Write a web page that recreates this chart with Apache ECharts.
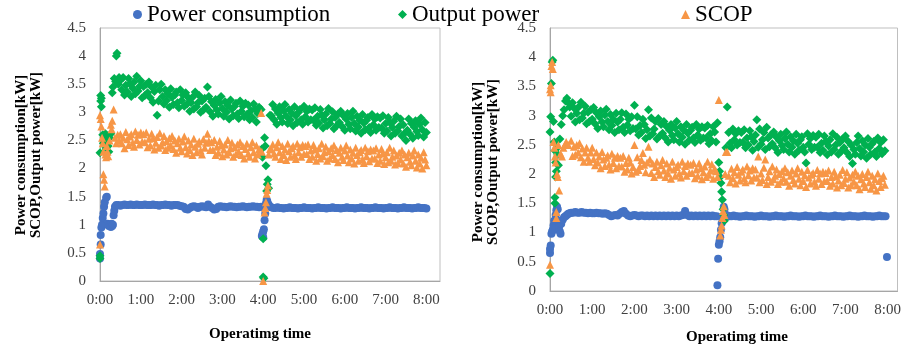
<!DOCTYPE html>
<html><head><meta charset="utf-8">
<script src="https://cdn.jsdelivr.net/npm/echarts/dist/echarts.min.js"></script>
<style>html,body{margin:0;padding:0;background:#fff}#c{width:904px;height:347px}</style>
</head><body><div id="c"></div>
<script>
// ---- Series names, tick labels, titles ----
const seriesNames = ['Power consumption', 'Output power', 'SCOP'];
const timeLabels = ['0:00','1:00','2:00','3:00','4:00','5:00','6:00','7:00','8:00'];
const yTitle = 'Power consumption[kW]\nSCOP,Output power[kW]';
const xTitle = 'Operatimg time';

// ---- Left panel (A): [minutes, value] ----
const powerA = [
[0,0.40],[0,0.48],[1,0.65],[1,0.82],[2,0.95],[3,1.00],[4,1.12],[5,1.20],[6,1.32],[7,1.40],[9,1.48],[10,1.50],[11,1.02],[12,1.00],[13,0.98],[15,1.00],[16,0.96],[17,1.02],[18,0.98],[19,1.00],[20,1.17],[21,1.25],[22,1.32],[24,1.35],[27,1.35],
[30,1.34],[33,1.35],[36,1.36],[39,1.35],[42,1.35],[45,1.36],[48,1.35],[51,1.35],[54,1.36],[57,1.35],[60,1.35],[63,1.35],[66,1.36],[69,1.35],[72,1.35],[75,1.35],[78,1.36],[81,1.35],[84,1.35],[87,1.34],[90,1.35],[93,1.35],[96,1.36],[99,1.35],[102,1.35],[105,1.34],[108,1.35],[111,1.35],[114,1.35],[117,1.34],
[120,1.33],[123,1.32],[126,1.28],[129,1.27],[132,1.30],[135,1.32],[138,1.33],[141,1.32],[144,1.30],[147,1.32],[150,1.33],[153,1.32],[156,1.31],[159,1.36],[162,1.32],[165,1.30],[168,1.27],[171,1.28],[174,1.32],[177,1.33],[180,1.32],[183,1.32],[186,1.31],[189,1.32],[192,1.33],[195,1.32],[198,1.32],[201,1.31],[204,1.32],[207,1.32],[210,1.33],[213,1.32],[216,1.31],[219,1.32],[222,1.32],[225,1.33],[228,1.32],[231,1.32],[234,1.31],
[237,1.32],[238,0.80],[239,0.84],[240,0.88],[240,0.78],[241,0.92],[242,1.08],[243,1.20],[244,1.38],[245,1.44],[246,1.42],[248,1.36],[250,1.32],
[252,1.31],[255,1.30],[258,1.30],[261,1.31],[264,1.30],[267,1.30],[270,1.29],[273,1.30],[276,1.30],[279,1.31],[282,1.30],[285,1.30],[288,1.30],[291,1.29],[294,1.30],[297,1.30],[300,1.31],[303,1.30],[306,1.30],[309,1.30],[312,1.29],[315,1.30],[318,1.30],[321,1.31],[324,1.30],[327,1.30],[330,1.30],[333,1.29],[336,1.30],[339,1.30],[342,1.31],[345,1.30],[348,1.30],[351,1.30],[354,1.29],[357,1.30],[360,1.30],[363,1.31],[366,1.30],[369,1.30],[372,1.30],[375,1.29],[378,1.30],[381,1.30],[384,1.31],[387,1.30],[390,1.30],[393,1.30],[396,1.29],[399,1.30],[402,1.30],[405,1.31],[408,1.30],[411,1.30],[414,1.30],[417,1.29],[420,1.30],[423,1.30],[426,1.31],[429,1.30],[432,1.30],[435,1.30],[438,1.29],[441,1.30],[444,1.30],[447,1.31],[450,1.30],[453,1.30],[456,1.30],[459,1.29],[462,1.30],[465,1.30],[468,1.31],[471,1.30],[474,1.30],[477,1.30],[480,1.29]
];
const outputA = [
[0,0.45],[0,0.40],[0,2.28],[1,3.30],[1,3.20],[2,3.10],[2,3.25],[4,2.60],[5,2.45],[6,2.55],[7,2.40],[8,2.62],[9,2.35],[10,2.50],[11,2.58],[12,2.40],[13,2.30],[14,2.55],[16,2.62],[18,3.35],[19,3.45],[21,3.60],[23,3.55],[24,4.00],[25,4.05],[27,3.50],[28,3.62],
[30,3.57],[32,3.40],[34,3.62],[36,3.31],[38,3.48],[40,3.36],[42,3.60],[44,3.51],[46,3.28],[48,3.43],[50,3.54],[52,3.33],[54,3.64],[56,3.38],[58,3.46],[60,3.56],[62,3.26],[64,3.46],[66,3.30],[68,3.50],[70,3.35],[72,3.54],[74,3.26],[76,3.45],[78,3.18],[80,3.37],[82,3.48],[84,2.95],[86,3.20],[88,3.40],[90,3.50],[92,3.28],[94,3.15],[96,3.40],[98,3.21],[100,3.33],[102,3.09],[104,3.42],[106,3.27],[108,3.14],[110,3.31],[112,3.36],[114,3.17],[116,3.08],[118,3.40],[120,3.21],[122,3.31],[124,3.11],[126,3.35],[128,3.15],
[130,3.26],[132,3.02],[134,3.17],[136,3.27],[138,3.06],[140,3.36],[142,3.10],[144,3.17],[146,3.30],[148,3.00],[150,3.20],[152,3.04],[154,3.25],[156,3.09],[158,3.45],[160,3.28],[162,3.01],[164,3.19],[166,2.93],[168,3.12],[170,3.23],[172,3.04],[174,2.97],[176,3.17],[178,3.28],[180,3.07],[182,2.93],[184,3.19],[186,3.00],[188,3.12],[190,2.88],[192,3.22],[194,3.06],[196,2.94],[198,3.11],[200,3.16],[202,2.97],[204,2.89],[206,3.20],[208,3.02],[210,3.11],[212,2.92],[214,3.16],[216,2.96],[218,3.13],[220,2.87],[222,3.03],[224,2.91],[226,3.15],[228,3.06],[230,2.83],[232,2.98],[234,3.09],
[237,3.05],[238,2.35],[239,2.20],[240,0.75],[240,0.07],[241,0.05],[242,2.55],[243,2.40],[244,2.05],[245,1.60],[246,1.72],[247,1.80],[248,1.65],[250,2.95],
[252,2.94],[254,3.14],[256,2.87],[258,3.06],[260,2.79],[262,2.99],[264,3.10],[266,2.91],[268,2.83],[270,3.03],[272,3.14],[274,2.93],[276,2.80],[278,3.05],[280,2.87],[282,2.99],[284,2.76],[286,3.10],[288,2.94],[290,2.82],[292,3.00],[294,3.05],[296,2.87],[298,2.79],[300,3.11],[302,2.92],[304,3.02],[306,2.83],[308,3.06],[310,2.87],[312,3.04],[314,2.86],[316,3.08],[318,2.77],[320,2.93],[322,2.81],[324,3.05],[326,2.95],[328,2.72],[330,2.87],[332,2.97],[334,2.76],[336,3.07],[338,2.80],[340,2.88],[342,3.01],[344,2.71],[346,2.91],[348,2.76],[350,2.97],[352,2.82],[354,3.02],[356,2.75],[358,2.94],[360,2.68],[362,2.88],[364,2.98],[366,2.79],[368,2.71],[370,2.91],[372,3.02],[374,2.80],[376,2.67],[378,2.93],[380,2.74],[382,2.86],[384,2.63],[386,2.96],[388,2.81],[390,2.69],[392,2.86],[394,2.91],[396,2.73],[398,2.64],[400,2.96],[402,2.78],[404,2.88],[406,2.68],[408,2.92],[410,2.73],[412,2.90],[414,2.72],[416,2.94],[418,2.63],[420,2.80],[422,2.67],[424,2.91],[426,2.82],[428,2.58],[430,2.73],[432,2.84],[434,2.63],[436,2.93],[438,2.67],[440,2.75],[442,2.88],[444,2.58],[446,2.78],[448,2.63],[450,2.50],[452,2.68],[454,2.88],[456,2.61],[458,2.80],[460,2.54],[462,2.74],[464,2.85],[466,2.66],[468,2.59],[470,2.79],[472,2.90],[474,2.69],[476,2.56],[478,2.82],[480,2.64]
];
const scopA = [
[0,0.65],[0,2.95],[1,2.88],[2,2.75],[3,2.55],[4,2.45],[5,2.30],[5,1.90],[6,1.80],[7,1.68],[8,2.25],[9,2.20],[10,2.40],[11,2.30],[12,2.22],[14,2.50],[16,2.78],[17,2.70],[18,2.85],[20,3.05],[22,2.55],[24,2.45],[26,2.60],[28,2.50],
[30,2.61],[32,2.45],[34,2.55],[36,2.36],[38,2.65],[40,2.52],[42,2.42],[44,2.57],[46,2.61],[48,2.46],[50,2.39],[52,2.66],[54,2.51],[56,2.60],[58,2.43],[60,2.64],[62,2.48],[64,2.61],[66,2.47],[68,2.64],[70,2.38],[72,2.53],[74,2.41],[76,2.62],[78,2.54],[80,2.34],[82,2.46],[84,2.56],[86,2.37],[88,2.63],[90,2.41],[92,2.47],[94,2.58],[96,2.33],[98,2.49],[100,2.37],[102,2.54],[104,2.41],[106,2.58],[108,2.35],[110,2.50],[112,2.28],[114,2.45],[116,2.53],[118,2.37],[120,2.31],[122,2.48],[124,2.57],[126,2.38],[128,2.27],
[130,2.50],[132,2.33],[134,2.43],[136,2.24],[138,2.53],[140,2.39],[142,2.29],[144,2.44],[146,2.48],[148,2.32],[150,2.25],[152,2.52],[154,2.37],[156,2.46],[158,2.62],[160,2.49],[162,2.33],[164,2.47],[166,2.33],[168,2.51],[170,2.24],[172,2.39],[174,2.28],[176,2.49],[178,2.41],[180,2.22],[182,2.34],[184,2.43],[186,2.25],[188,2.51],[190,2.29],[192,2.36],[194,2.46],[196,2.21],[198,2.38],[200,2.26],[202,2.43],[204,2.30],[206,2.47],[208,2.24],[210,2.40],[212,2.18],[214,2.35],[216,2.44],[218,2.27],[220,2.21],[222,2.38],[224,2.47],[226,2.29],[228,2.18],[230,2.41],[232,2.25],[234,2.35],
[237,2.99],[238,2.30],[240,0.00],[242,1.22],[243,1.30],[244,1.40],[245,1.55],[246,1.62],[247,1.70],[248,2.25],[250,2.35],
[252,2.34],[254,2.43],[256,2.27],[258,2.21],[260,2.38],[262,2.47],[264,2.29],[266,2.17],[268,2.40],[270,2.24],[272,2.34],[274,2.15],[276,2.44],[278,2.31],[280,2.21],[282,2.36],[284,2.40],[286,2.24],[288,2.17],[290,2.44],[292,2.29],[294,2.38],[296,2.21],[298,2.42],[300,2.26],[302,2.40],[304,2.26],[306,2.43],[308,2.17],[310,2.32],[312,2.21],[314,2.42],[316,2.34],[318,2.14],[320,2.26],[322,2.36],[324,2.18],[326,2.44],[328,2.22],[330,2.29],[332,2.39],[334,2.14],[336,2.31],[338,2.18],[340,2.36],[342,2.24],[344,2.41],[346,2.17],[348,2.33],[350,2.11],[352,2.28],[354,2.37],[356,2.21],[358,2.15],[360,2.32],[362,2.41],[364,2.23],[366,2.11],[368,2.34],[370,2.18],[372,2.28],[374,2.09],[376,2.37],[378,2.24],[380,2.14],[382,2.29],[384,2.33],[386,2.17],[388,2.10],[390,2.37],[392,2.22],[394,2.31],[396,2.13],[398,2.34],[400,2.18],[402,2.32],[404,2.18],[406,2.36],[408,2.10],[410,2.25],[412,2.14],[414,2.35],[416,2.27],[418,2.08],[420,2.20],[422,2.29],[424,2.11],[426,2.37],[428,2.14],[430,2.21],[432,2.32],[434,2.07],[436,2.23],[438,2.10],[440,2.28],[442,2.16],[444,2.32],[446,2.09],[448,2.25],[450,2.03],[452,2.20],[454,2.28],[456,2.12],[458,2.06],[460,2.23],[462,2.32],[464,2.14],[466,2.02],[468,2.25],[470,2.09],[472,2.19],[474,2.00],[476,2.29],[478,2.16],[480,2.06]
];

// ---- Right panel (B): [minutes, value] ----
const powerB = [
[0,0.65],[0,0.72],[1,0.78],[2,0.98],[3,1.02],[4,1.05],[5,1.12],[6,1.20],[8,1.30],[9,1.38],[10,1.44],[11,1.40],[12,1.20],[13,1.10],[14,1.02],[15,0.98],[16,1.15],[18,1.22],[20,1.26],[22,1.28],[24,1.30],[26,1.32],[28,1.33],
[30,1.34],[33,1.34],[36,1.35],[39,1.34],[42,1.34],[45,1.35],[48,1.34],[51,1.34],[54,1.33],[57,1.34],[60,1.33],[63,1.33],[66,1.34],[69,1.33],[72,1.33],[75,1.32],[78,1.33],[81,1.32],[84,1.30],[87,1.28],[90,1.29],[93,1.30],[96,1.29],[99,1.32],[102,1.35],[105,1.37],[108,1.32],[111,1.29],[114,1.28],[117,1.29],[120,1.30],[123,1.29],[126,1.28],[129,1.29],[132,1.29],[135,1.28],[138,1.29],[141,1.28],[144,1.29],[147,1.28],[150,1.29],[153,1.28],[156,1.29],[159,1.28],[162,1.29],[165,1.28],[168,1.29],[171,1.28],[174,1.29],[177,1.28],[180,1.29],[183,1.28],[186,1.29],[189,1.30],[192,1.37],[195,1.30],[198,1.28],[201,1.29],[204,1.28],[207,1.29],[210,1.28],[213,1.29],[216,1.28],[219,1.29],[222,1.28],[225,1.29],[228,1.28],[231,1.29],[234,1.28],
[237,1.28],[238,0.10],[239,0.55],[240,0.79],[241,0.85],[242,0.92],[243,1.05],[244,1.16],[245,1.25],[247,1.44],[248,1.40],[250,1.30],
[252,1.29],[255,1.28],[258,1.28],[261,1.29],[264,1.28],[267,1.28],[270,1.27],[273,1.28],[276,1.28],[279,1.29],[282,1.28],[285,1.28],[288,1.28],[291,1.27],[294,1.28],[297,1.28],[300,1.29],[303,1.28],[306,1.28],[309,1.28],[312,1.27],[315,1.28],[318,1.28],[321,1.29],[324,1.28],[327,1.28],[330,1.28],[333,1.27],[336,1.28],[339,1.28],[342,1.29],[345,1.28],[348,1.28],[351,1.28],[354,1.27],[357,1.28],[360,1.28],[363,1.29],[366,1.28],[369,1.28],[372,1.28],[375,1.27],[378,1.28],[381,1.28],[384,1.29],[387,1.28],[390,1.28],[393,1.28],[396,1.27],[399,1.28],[402,1.28],[405,1.29],[408,1.28],[411,1.28],[414,1.28],[417,1.27],[420,1.28],[423,1.28],[426,1.29],[429,1.28],[432,1.28],[435,1.28],[438,1.27],[441,1.28],[444,1.28],[447,1.29],[450,1.28],[453,1.28],[456,1.28],[459,1.27],[462,1.28],[465,1.28],[468,1.29],[471,1.28],[474,1.28],[477,1.28],[479,0.58]
];
const outputB = [
[0,0.30],[0,2.72],[1,2.98],[2,3.55],[3,3.92],[4,3.95],[5,2.90],[6,2.55],[7,2.40],[7,1.60],[7,1.50],[8,2.20],[8,1.95],[9,2.05],[10,2.45],[11,2.33],[12,2.15],[14,2.60],[16,2.85],[18,3.00],[20,3.10],[22,3.25],[24,3.30],[26,3.22],[28,3.15],
[30,2.99],[32,3.22],[34,3.13],[36,2.89],[38,3.04],[40,3.14],[42,2.93],[44,3.23],[46,2.96],[48,3.04],[50,3.16],[52,2.86],[54,3.06],[56,2.90],[58,3.10],[60,2.94],[62,3.14],[64,2.86],[66,3.05],[68,2.78],[70,2.98],[72,3.08],[74,2.89],[76,2.81],[78,3.01],[80,3.11],[82,2.90],[84,2.76],[86,3.02],[88,2.83],[90,2.94],[92,2.71],[94,3.04],[96,2.89],[98,2.76],[100,2.94],[102,3.05],[104,2.80],[106,2.71],[108,3.03],[110,2.84],[112,2.94],[114,2.74],[116,2.98],[118,2.78],[120,3.18],[122,2.77],[124,2.98],[126,2.67],[128,2.83],
[130,2.71],[132,2.94],[134,2.85],[136,2.61],[138,2.76],[140,3.10],[142,2.65],[144,2.96],[146,2.69],[148,2.77],[150,2.90],[152,2.60],[154,2.95],[156,2.65],[158,2.85],[160,2.70],[162,2.90],[164,2.62],[166,2.81],[168,2.55],[170,2.75],[172,2.85],[174,2.66],[176,2.59],[178,2.79],[180,2.90],[182,2.69],[184,2.55],[186,2.81],[188,2.63],[190,2.75],[192,2.51],[194,2.85],[196,2.70],[198,2.58],[200,2.75],[202,2.80],[204,2.62],[206,2.54],[208,2.85],[210,2.67],[212,2.77],[214,2.58],[216,2.81],[218,2.62],[220,2.79],[222,2.62],[224,2.83],[226,2.52],[228,2.69],[230,2.57],[232,2.81],[234,2.72],
[236,2.55],[238,2.88],[240,2.20],[241,2.05],[242,1.95],[243,1.85],[244,1.70],[245,1.56],[246,1.40],[247,1.30],[248,1.20],[250,2.45],
[252,3.15],[254,2.71],[256,2.53],[258,2.45],[260,2.77],[262,2.59],[264,2.69],[266,2.50],[268,2.74],[270,2.54],[272,2.71],[274,2.54],[276,2.76],[278,2.45],[280,2.62],[282,2.50],[284,2.74],[286,2.64],[288,2.41],[290,2.56],[292,2.67],[294,2.93],[296,2.46],[298,2.77],[300,2.51],[302,2.59],[304,2.71],[306,2.42],[308,2.80],[310,2.62],[312,2.47],[314,2.67],[316,2.52],[318,2.72],[320,2.45],[322,2.63],[324,2.37],[326,2.57],[328,2.68],[330,2.49],[332,2.42],[334,2.61],[336,2.72],[338,2.51],[340,2.38],[342,2.64],[344,2.46],[346,2.57],[348,2.34],[350,2.68],[352,2.53],[354,2.41],[356,2.59],[358,2.64],[360,2.46],[362,2.38],[364,2.19],[366,2.69],[368,2.51],[370,2.61],[372,2.42],[374,2.66],[376,2.46],[378,2.63],[380,2.46],[382,2.68],[384,2.37],[386,2.53],[388,2.41],[390,2.65],[392,2.56],[394,2.33],[396,2.48],[398,2.59],[400,2.38],[402,2.69],[404,2.42],[406,2.50],[408,2.63],[410,2.34],[412,2.54],[414,2.39],[416,2.60],[418,2.45],[420,2.65],[422,2.37],[424,2.56],[426,2.30],[428,2.50],[430,2.18],[432,2.42],[434,2.34],[436,2.54],[438,2.65],[440,2.44],[442,2.31],[444,2.57],[446,2.38],[448,2.50],[450,2.27],[452,2.61],[454,2.46],[456,2.34],[458,2.52],[460,2.56],[462,2.38],[464,2.30],[466,2.62],[468,2.44],[470,2.54],[472,2.35],[474,2.59],[476,2.40]
];
const scopB = [
[0,0.45],[0,3.45],[1,3.40],[1,3.52],[2,3.85],[3,3.92],[4,3.80],[5,2.55],[6,2.45],[7,2.30],[8,2.20],[9,1.25],[9,1.35],[10,2.00],[11,1.95],[12,2.50],[13,1.72],[15,2.35],[17,2.30],[19,2.45],[21,2.50],[23,2.55],[26,2.50],
[30,2.57],[32,2.31],[34,2.47],[36,2.33],[38,2.50],[40,2.37],[42,2.53],[44,2.29],[46,2.44],[48,2.21],[50,2.37],[52,2.45],[54,2.28],[56,2.21],[58,2.37],[60,2.45],[62,2.26],[64,2.15],[66,2.37],[68,2.20],[70,2.30],[72,2.10],[74,2.38],[76,2.25],[78,2.14],[80,2.28],[82,2.32],[84,2.16],[86,2.08],[88,2.35],[90,2.19],[92,2.28],[94,2.10],[96,2.31],[98,2.14],[100,2.28],[102,2.13],[104,2.31],[106,2.04],[108,2.19],[110,2.08],[112,2.28],[114,2.20],[116,2.01],[118,2.12],[120,2.50],[122,2.04],[124,2.29],[126,2.07],[128,2.14],
[130,2.24],[132,2.36],[134,2.16],[136,2.03],[138,2.20],[140,2.47],[142,2.25],[144,2.02],[146,2.18],[148,1.95],[150,2.12],[152,2.21],[154,2.05],[156,1.99],[158,2.15],[160,2.24],[162,2.06],[164,1.95],[166,2.18],[168,2.01],[170,2.11],[172,1.92],[174,2.21],[176,2.08],[178,1.97],[180,2.12],[182,2.16],[184,2.01],[186,1.94],[188,2.21],[190,2.05],[192,2.14],[194,1.97],[196,2.18],[198,2.02],[200,2.16],[202,2.02],[204,2.19],[206,1.93],[208,2.08],[210,1.97],[212,2.18],[214,2.10],[216,1.91],[218,2.03],[220,2.13],[222,1.95],[224,2.21],[226,1.99],[228,2.06],[230,2.17],[232,1.92],[234,2.09],
[236,2.05],[238,1.95],[240,3.27],[242,0.95],[243,1.05],[244,1.12],[245,1.25],[246,1.37],[247,1.45],[248,1.30],[249,2.00],[250,2.38],
[252,2.38],[254,1.97],[256,1.86],[258,2.09],[260,1.93],[262,2.03],[264,1.84],[266,2.12],[268,1.99],[270,1.89],[272,2.04],[274,2.08],[276,1.93],[278,1.86],[280,2.13],[282,1.98],[284,2.06],[286,1.89],[288,2.10],[290,1.94],[292,2.08],[294,1.94],[296,2.30],[298,1.86],[300,2.01],[302,1.90],[304,2.11],[306,2.25],[308,1.83],[310,1.95],[312,2.05],[314,1.87],[316,2.13],[318,1.91],[320,1.97],[322,2.08],[324,1.83],[326,2.00],[328,1.87],[330,2.05],[332,1.93],[334,2.10],[336,1.87],[338,2.03],[340,1.80],[342,1.97],[344,2.06],[346,1.90],[348,1.84],[350,2.01],[352,2.10],[354,1.92],[356,1.81],[358,2.04],[360,1.88],[362,1.98],[364,1.78],[366,2.07],[368,1.94],[370,1.84],[372,1.99],[374,2.02],[376,1.87],[378,1.80],[380,2.07],[382,1.92],[384,2.01],[386,1.83],[388,2.04],[390,1.88],[392,2.02],[394,1.88],[396,2.06],[398,1.80],[400,1.95],[402,1.84],[404,2.04],[406,1.96],[408,1.77],[410,1.89],[412,1.99],[414,1.81],[416,2.07],[418,1.85],[420,1.92],[422,2.03],[424,1.77],[426,1.94],[428,1.81],[430,1.99],[432,1.87],[434,2.04],[436,1.81],[438,1.97],[440,1.74],[442,1.91],[444,2.00],[446,1.84],[448,1.78],[450,1.95],[452,2.04],[454,1.86],[456,1.75],[458,1.97],[460,1.81],[462,1.91],[464,1.72],[466,2.01],[468,1.88],[470,1.78],[472,1.93],[474,1.97],[476,1.82]
];

// ---- Chart ----
const SERIF = "'Liberation Serif','Times New Roman',serif";
const colors = ['#4472C4', '#00B050', '#F79646'];
const symbols = ['circle', 'diamond', 'triangle'];
const sizes = [8, 9, 8];

function xAxisCfg(gi, max) {
  return {
    gridIndex: gi, type: 'value', min: 0, max: max, interval: 60,
    axisLine: { show: true, lineStyle: { color: '#A6A6A6', width: 1 } },
    axisTick: { show: false }, splitLine: { show: false },
    axisLabel: {
      margin: 12, fontFamily: SERIF, fontSize: 15, color: '#404040',
      formatter: v => (v % 60 === 0 ? timeLabels[v / 60] : '')
    }
  };
}
function yAxisCfg(gi) {
  return {
    gridIndex: gi, type: 'value', min: 0, max: 4.5, interval: 0.5,
    axisLine: { show: true, lineStyle: { color: '#A6A6A6', width: 1 } },
    axisTick: { show: false }, splitLine: { show: false },
    axisLabel: { margin: 14, fontFamily: SERIF, fontSize: 15, color: '#404040' }
  };
}
function mk(name, idx, gi, data) {
  return {
    name: name, type: 'scatter', xAxisIndex: gi, yAxisIndex: gi, data: data,
    symbol: symbols[idx], symbolSize: sizes[idx],
    itemStyle: { color: colors[idx], opacity: 1 }, silent: true
  };
}
function legendCfg(name, left) {
  return {
    data: [name], left: left, top: 3, padding: 0, itemWidth: 9, itemHeight: 9,
    selectedMode: false,
    textStyle: { fontFamily: SERIF, fontSize: 23, color: '#000' }
  };
}
function titleText(x, y, text, rot) {
  return {
    type: 'text', x: x, y: y, rotation: rot,
    style: {
      text: text, font: 'bold 15px ' + SERIF, fill: '#000',
      textAlign: 'center', textVerticalAlign: 'middle', lineHeight: 15
    }
  };
}

const chart = echarts.init(document.getElementById('c'), null, { renderer: 'canvas' });
chart.setOption({
  animation: false,
  backgroundColor: '#fff',
  color: colors,
  legend: [
    legendCfg(seriesNames[0], 133),
    legendCfg(seriesNames[1], 398),
    legendCfg(seriesNames[2], 681)
  ],
  grid: [
    { left: 100, top: 28, width: 340, height: 253, show: true, borderColor: '#BFBFBF', borderWidth: 1, backgroundColor: 'transparent' },
    { left: 550, top: 28, width: 353, height: 263, show: true, borderColor: '#BFBFBF', borderWidth: 1, backgroundColor: 'transparent' }
  ],
  xAxis: [xAxisCfg(0, 500), xAxisCfg(1, 494)],
  yAxis: [yAxisCfg(0), yAxisCfg(1)],
  graphic: [
    titleText(29, 155, yTitle, Math.PI / 2),
    titleText(486, 162, yTitle, Math.PI / 2),
    titleText(260, 334, xTitle, 0),
    titleText(737, 337, xTitle, 0)
  ],
  series: [
    mk(seriesNames[0], 0, 0, powerA),
    mk(seriesNames[1], 1, 0, outputA),
    mk(seriesNames[2], 2, 0, scopA),
    mk(seriesNames[0], 0, 1, powerB),
    mk(seriesNames[1], 1, 1, outputB),
    mk(seriesNames[2], 2, 1, scopB)
  ]
});
</script></body></html>
